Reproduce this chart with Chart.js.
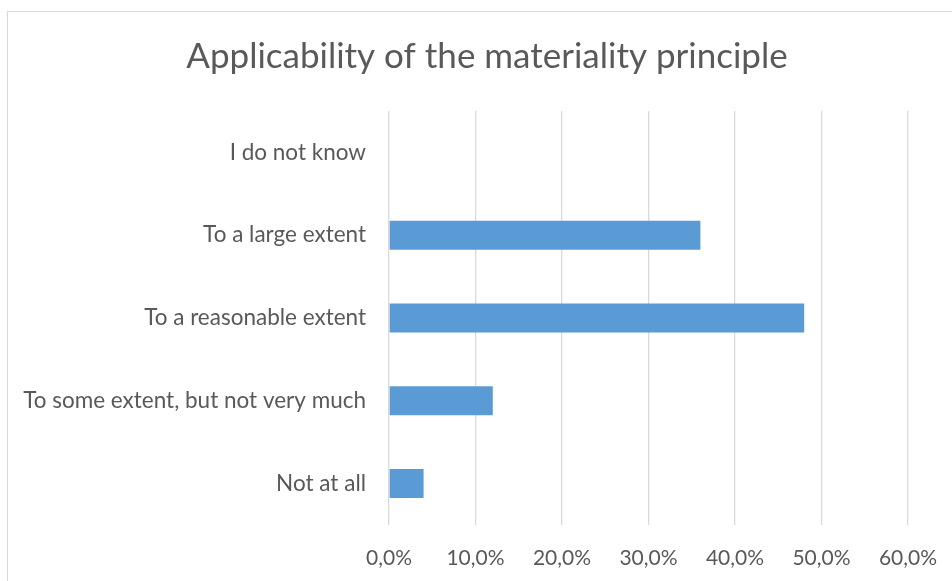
<!DOCTYPE html>
<html>
<head>
<meta charset="utf-8">
<script src="https://cdn.jsdelivr.net/npm/chart.js@4.4.1/dist/chart.umd.min.js"></script>
<style>
html,body{margin:0;padding:0;background:#fff;}
#wrap{position:relative;width:952px;height:581px;}
</style>
</head>
<body>
<div id="wrap"><canvas id="c" width="952" height="581"></canvas></div>
<script>
const chartTitle = 'Applicability of the materiality principle';
const categories = ['I do not know', 'To a large extent', 'To a reasonable extent', 'To some extent, but not very much', 'Not at all'];
const shares = [0, 36, 48, 12, 4];
const xTickLabels = ['0,0%', '10,0%', '20,0%', '30,0%', '40,0%', '50,0%', '60,0%'];

const FONT = 'Lato, "Open Sans", sans-serif';
const TEXT = '#595959';

const framePlugin = {
  id: 'frameAndTitle',
  beforeDraw(chart) {
    const ctx = chart.ctx;
    ctx.save();
    ctx.fillStyle = '#fff';
    ctx.fillRect(0, 0, chart.width, chart.height);
    ctx.strokeStyle = '#d9d9d9';
    ctx.lineWidth = 1;
    ctx.strokeRect(7.5, 11.5, 1000, 1000);
    ctx.restore();
  },
  afterDraw(chart) {
    const ctx = chart.ctx;
    ctx.save();
    ctx.fillStyle = TEXT;
    ctx.font = '35px ' + FONT;
    ctx.textAlign = 'center';
    ctx.textBaseline = 'middle';
    ctx.fillText(chartTitle, 487, 57);
    ctx.restore();
  }
};

new Chart(document.getElementById('c'), {
  type: 'bar',
  data: {
    labels: categories,
    datasets: [{
      data: shares,
      backgroundColor: '#5b9bd5',
      borderWidth: 0,
      barPercentage: 0.35,
      categoryPercentage: 1
    }]
  },
  options: {
    indexAxis: 'y',
    responsive: false,
    animation: false,
    layout: { padding: { left: 9, right: 44, top: 111, bottom: 0 } },
    plugins: {
      legend: { display: false },
      tooltip: { enabled: false },
      title: { display: false }
    },
    scales: {
      x: {
        min: 0, max: 60,
        ticks: {
          stepSize: 10,
          color: TEXT,
          font: { family: FONT, size: 21 },
          padding: 21,
          callback: (v, i) => xTickLabels[i]
        },
        grid: { color: '#d9d9d9', lineWidth: 1.3, drawTicks: false },
        border: { display: false },
        afterFit(s) { s.height = 56; s.paddingLeft = 0; s.paddingRight = 0; }
      },
      y: {
        ticks: {
          color: TEXT,
          font: { family: FONT, size: 22.5 },
          padding: 15
        },
        grid: { display: false },
        border: { display: false },
        afterFit(s) { s.width = 380; s.paddingTop = 0; s.paddingBottom = 0; }
      }
    }
  },
  plugins: [framePlugin]
});
</script>
</body>
</html>
